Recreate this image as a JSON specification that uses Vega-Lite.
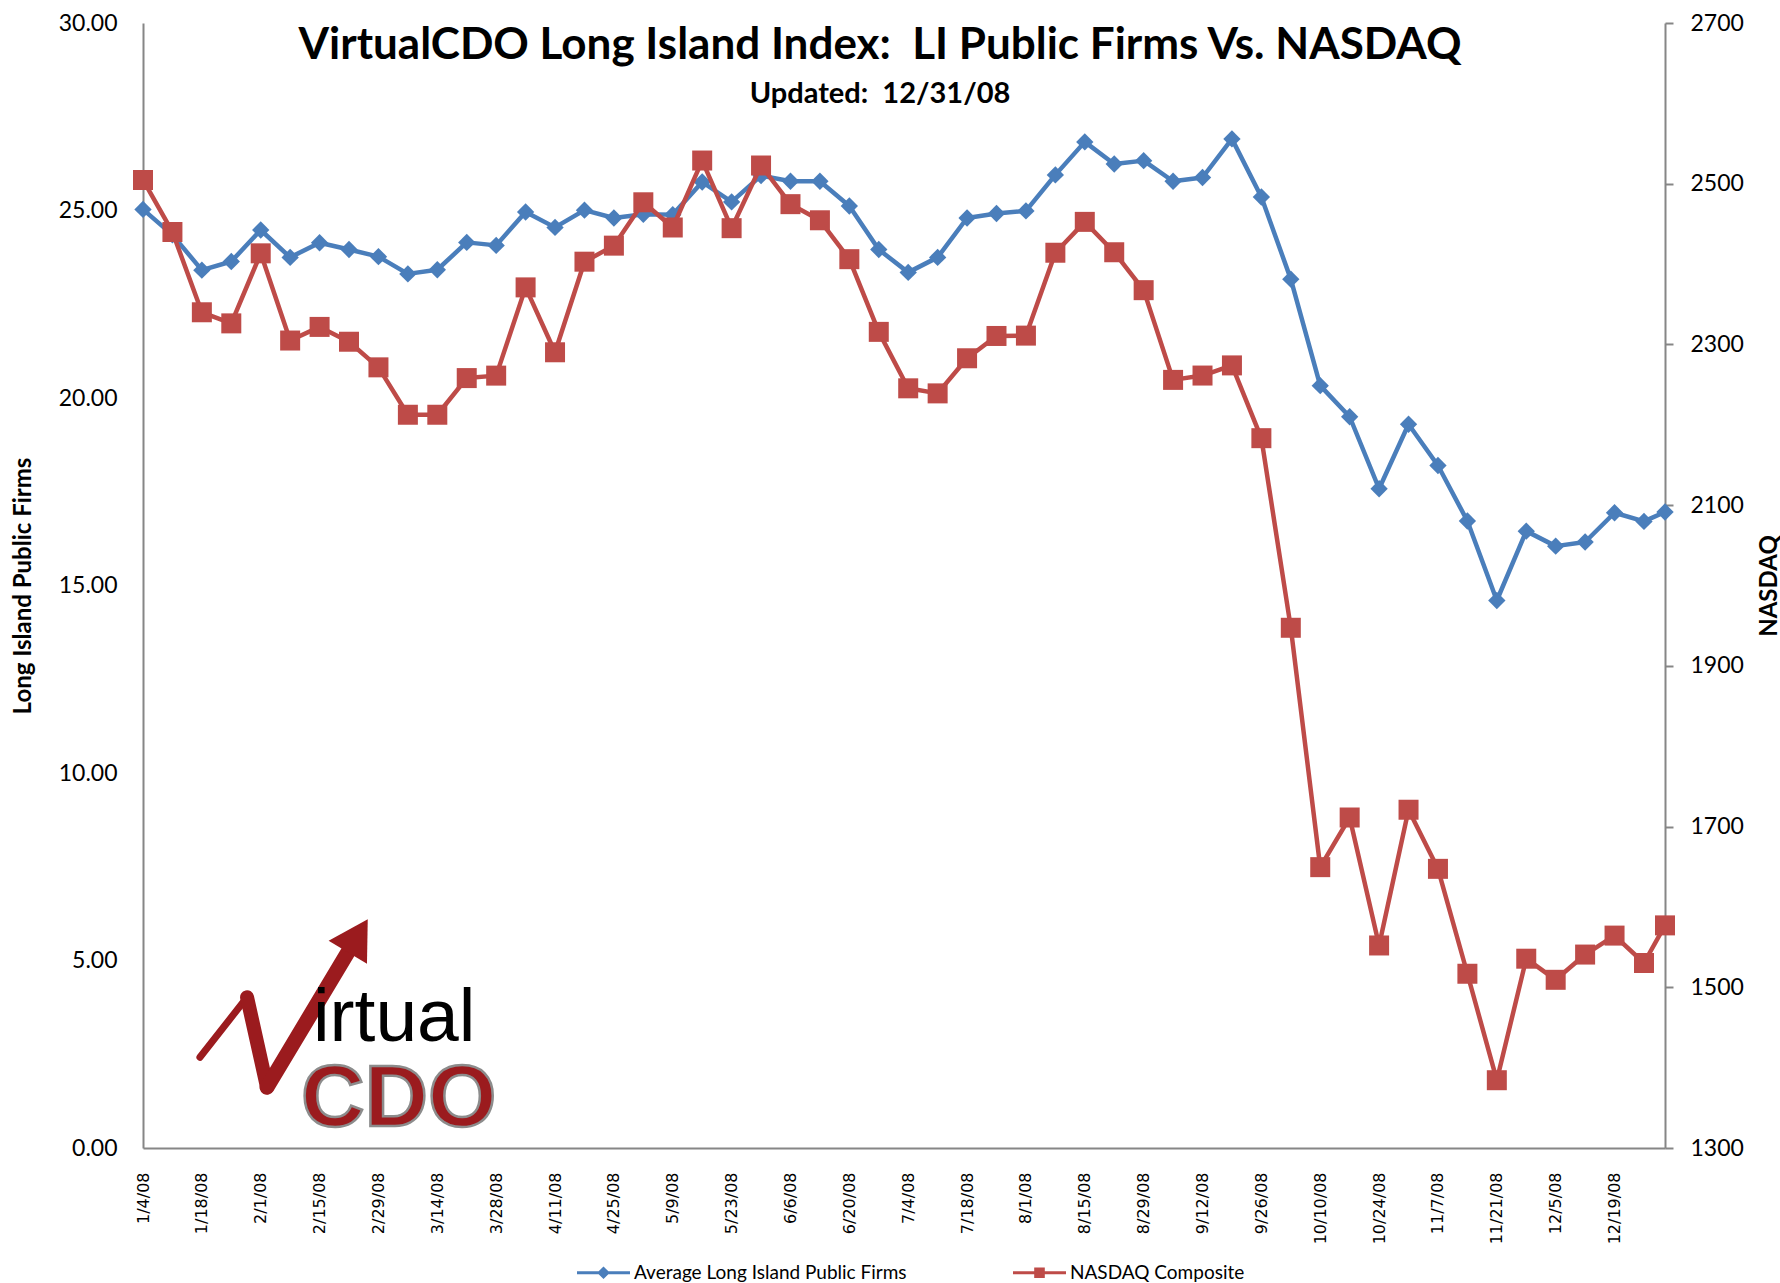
{
  "$schema": "https://vega.github.io/schema/vega-lite/v6.json",
  "width": 1522,
  "height": 1125,
  "autosize": "none",
  "padding": {"left": 143, "top": 23, "right": 115, "bottom": 135},
  "background": "white",
  "config": {
    "view": {"stroke": null},
    "font": "Lato",
    "axis": {"grid": false, "labelColor": "#000000", "titleColor": "#000000", "domainColor": "#868686", "domainWidth": 2}
  },
  "title": {
    "text": "VirtualCDO Long Island Index:\u00a0 LI Public Firms Vs. NASDAQ",
    "subtitle": "Updated:\u00a0 12/31/08",
    "font": "Lato",
    "fontSize": 44,
    "fontWeight": "bold",
    "color": "#000000",
    "subtitleFont": "Lato",
    "subtitleFontSize": 29,
    "subtitleFontWeight": "bold",
    "subtitleColor": "#000000",
    "subtitlePadding": 12,
    "anchor": "middle",
    "frame": "group",
    "offset": -97,
    "dx": -24
  },
  "data": {
    "values": [
      {"date": "2008-01-04", "li": 25.03, "nasdaq": 2504.65},
      {"date": "2008-01-11", "li": 24.35, "nasdaq": 2439.94},
      {"date": "2008-01-18", "li": 23.41, "nasdaq": 2340.02},
      {"date": "2008-01-25", "li": 23.64, "nasdaq": 2326.20},
      {"date": "2008-02-01", "li": 24.48, "nasdaq": 2413.36},
      {"date": "2008-02-08", "li": 23.75, "nasdaq": 2304.85},
      {"date": "2008-02-15", "li": 24.14, "nasdaq": 2321.80},
      {"date": "2008-02-22", "li": 23.96, "nasdaq": 2303.35},
      {"date": "2008-02-29", "li": 23.77, "nasdaq": 2271.48},
      {"date": "2008-03-07", "li": 23.31, "nasdaq": 2212.49},
      {"date": "2008-03-14", "li": 23.42, "nasdaq": 2212.49},
      {"date": "2008-03-21", "li": 24.15, "nasdaq": 2258.11},
      {"date": "2008-03-28", "li": 24.07, "nasdaq": 2261.18},
      {"date": "2008-04-04", "li": 24.96, "nasdaq": 2370.98},
      {"date": "2008-04-11", "li": 24.55, "nasdaq": 2290.24},
      {"date": "2008-04-18", "li": 25.01, "nasdaq": 2402.97},
      {"date": "2008-04-25", "li": 24.80, "nasdaq": 2422.93},
      {"date": "2008-05-02", "li": 24.90, "nasdaq": 2476.89},
      {"date": "2008-05-09", "li": 24.89, "nasdaq": 2445.52},
      {"date": "2008-05-16", "li": 25.76, "nasdaq": 2528.85},
      {"date": "2008-05-23", "li": 25.23, "nasdaq": 2444.67},
      {"date": "2008-05-30", "li": 25.93, "nasdaq": 2522.66},
      {"date": "2008-06-06", "li": 25.78, "nasdaq": 2474.56},
      {"date": "2008-06-13", "li": 25.78, "nasdaq": 2454.50},
      {"date": "2008-06-20", "li": 25.12, "nasdaq": 2406.09},
      {"date": "2008-06-27", "li": 23.96, "nasdaq": 2315.63},
      {"date": "2008-07-04", "li": 23.35, "nasdaq": 2245.38},
      {"date": "2008-07-11", "li": 23.75, "nasdaq": 2239.08},
      {"date": "2008-07-18", "li": 24.80, "nasdaq": 2282.78},
      {"date": "2008-07-25", "li": 24.92, "nasdaq": 2310.53},
      {"date": "2008-08-01", "li": 24.99, "nasdaq": 2310.96},
      {"date": "2008-08-08", "li": 25.95, "nasdaq": 2414.10},
      {"date": "2008-08-15", "li": 26.83, "nasdaq": 2452.52},
      {"date": "2008-08-22", "li": 26.24, "nasdaq": 2414.71},
      {"date": "2008-08-29", "li": 26.33, "nasdaq": 2367.52},
      {"date": "2008-09-05", "li": 25.78, "nasdaq": 2255.88},
      {"date": "2008-09-12", "li": 25.88, "nasdaq": 2261.27},
      {"date": "2008-09-19", "li": 26.91, "nasdaq": 2273.90},
      {"date": "2008-09-26", "li": 25.36, "nasdaq": 2183.34},
      {"date": "2008-10-03", "li": 23.17, "nasdaq": 1947.39},
      {"date": "2008-10-10", "li": 20.33, "nasdaq": 1649.51},
      {"date": "2008-10-17", "li": 19.50, "nasdaq": 1711.29},
      {"date": "2008-10-24", "li": 17.58, "nasdaq": 1552.03},
      {"date": "2008-10-31", "li": 19.30, "nasdaq": 1720.95},
      {"date": "2008-11-07", "li": 18.20, "nasdaq": 1647.40},
      {"date": "2008-11-14", "li": 16.72, "nasdaq": 1516.85},
      {"date": "2008-11-21", "li": 14.60, "nasdaq": 1384.35},
      {"date": "2008-11-28", "li": 16.45, "nasdaq": 1535.57},
      {"date": "2008-12-05", "li": 16.05, "nasdaq": 1509.31},
      {"date": "2008-12-12", "li": 16.16, "nasdaq": 1540.72},
      {"date": "2008-12-19", "li": 16.94, "nasdaq": 1564.32},
      {"date": "2008-12-26", "li": 16.71, "nasdaq": 1530.24},
      {"date": "2008-12-31", "li": 16.96, "nasdaq": 1577.03}
    ]
  },
  "layer": [
    {
      "layer": [
        {
          "mark": {"type": "line", "strokeWidth": 4.5, "strokeJoin": "round", "color": "#4A7EBB"},
          "encoding": {
            "x": {
              "field": "date",
              "type": "temporal",
              "scale": {"type": "utc", "domain": [1199404800000, 1230681600000], "nice": false},
              "axis": {
                "title": null, "format": "%-m/%-d/%y", "labelAngle": 270, "labelFont": "DejaVu Sans", "labelFontSize": 16, "labelPadding": 24, "labelOverlap": false, "labelFlush": false, "ticks": false, "tickSize": 0,
                "values": [
                  {"year": 2008, "month": 1, "date": 4, "utc": true}, {"year": 2008, "month": 1, "date": 11, "utc": true}, {"year": 2008, "month": 1, "date": 18, "utc": true}, {"year": 2008, "month": 1, "date": 25, "utc": true},
                  {"year": 2008, "month": 2, "date": 1, "utc": true}, {"year": 2008, "month": 2, "date": 8, "utc": true}, {"year": 2008, "month": 2, "date": 15, "utc": true}, {"year": 2008, "month": 2, "date": 22, "utc": true}, {"year": 2008, "month": 2, "date": 29, "utc": true},
                  {"year": 2008, "month": 3, "date": 7, "utc": true}, {"year": 2008, "month": 3, "date": 14, "utc": true}, {"year": 2008, "month": 3, "date": 21, "utc": true}, {"year": 2008, "month": 3, "date": 28, "utc": true},
                  {"year": 2008, "month": 4, "date": 4, "utc": true}, {"year": 2008, "month": 4, "date": 11, "utc": true}, {"year": 2008, "month": 4, "date": 18, "utc": true}, {"year": 2008, "month": 4, "date": 25, "utc": true},
                  {"year": 2008, "month": 5, "date": 2, "utc": true}, {"year": 2008, "month": 5, "date": 9, "utc": true}, {"year": 2008, "month": 5, "date": 16, "utc": true}, {"year": 2008, "month": 5, "date": 23, "utc": true}, {"year": 2008, "month": 5, "date": 30, "utc": true},
                  {"year": 2008, "month": 6, "date": 6, "utc": true}, {"year": 2008, "month": 6, "date": 13, "utc": true}, {"year": 2008, "month": 6, "date": 20, "utc": true}, {"year": 2008, "month": 6, "date": 27, "utc": true},
                  {"year": 2008, "month": 7, "date": 4, "utc": true}, {"year": 2008, "month": 7, "date": 11, "utc": true}, {"year": 2008, "month": 7, "date": 18, "utc": true}, {"year": 2008, "month": 7, "date": 25, "utc": true},
                  {"year": 2008, "month": 8, "date": 1, "utc": true}, {"year": 2008, "month": 8, "date": 8, "utc": true}, {"year": 2008, "month": 8, "date": 15, "utc": true}, {"year": 2008, "month": 8, "date": 22, "utc": true}, {"year": 2008, "month": 8, "date": 29, "utc": true},
                  {"year": 2008, "month": 9, "date": 5, "utc": true}, {"year": 2008, "month": 9, "date": 12, "utc": true}, {"year": 2008, "month": 9, "date": 19, "utc": true}, {"year": 2008, "month": 9, "date": 26, "utc": true},
                  {"year": 2008, "month": 10, "date": 3, "utc": true}, {"year": 2008, "month": 10, "date": 10, "utc": true}, {"year": 2008, "month": 10, "date": 17, "utc": true}, {"year": 2008, "month": 10, "date": 24, "utc": true}, {"year": 2008, "month": 10, "date": 31, "utc": true},
                  {"year": 2008, "month": 11, "date": 7, "utc": true}, {"year": 2008, "month": 11, "date": 14, "utc": true}, {"year": 2008, "month": 11, "date": 21, "utc": true}, {"year": 2008, "month": 11, "date": 28, "utc": true},
                  {"year": 2008, "month": 12, "date": 5, "utc": true}, {"year": 2008, "month": 12, "date": 12, "utc": true}, {"year": 2008, "month": 12, "date": 19, "utc": true}, {"year": 2008, "month": 12, "date": 26, "utc": true}
                ]
              }
            },
            "y": {
              "field": "li",
              "type": "quantitative",
              "scale": {"domain": [0, 30]},
              "axis": {
                "title": "Long Island Public Firms", "orient": "left", "values": [0, 5, 10, 15, 20, 25, 30], "format": ".2f", "ticks": false, "tickSize": 0,
                "labelFont": "Lato", "labelFontSize": 23, "labelPadding": 26,
                "titleFont": "Lato", "titleFontSize": 24, "titleFontWeight": "bold", "titleAngle": 270, "titleX": -120, "titleY": 562.5, "titleAlign": "center", "titleBaseline": "middle"
              }
            }
          }
        },
        {
          "mark": {"type": "point", "shape": "diamond", "filled": true, "opacity": 1, "size": 300, "color": "#4A7EBB"},
          "encoding": {
            "x": {
              "field": "date",
              "type": "temporal",
              "scale": {"type": "utc", "domain": [1199404800000, 1230681600000], "nice": false},
              "axis": {
                "title": null, "format": "%-m/%-d/%y", "labelAngle": 270, "labelFont": "DejaVu Sans", "labelFontSize": 16, "labelPadding": 24, "labelOverlap": false, "labelFlush": false, "ticks": false, "tickSize": 0,
                "values": [
                  {"year": 2008, "month": 1, "date": 4, "utc": true}, {"year": 2008, "month": 1, "date": 11, "utc": true}, {"year": 2008, "month": 1, "date": 18, "utc": true}, {"year": 2008, "month": 1, "date": 25, "utc": true},
                  {"year": 2008, "month": 2, "date": 1, "utc": true}, {"year": 2008, "month": 2, "date": 8, "utc": true}, {"year": 2008, "month": 2, "date": 15, "utc": true}, {"year": 2008, "month": 2, "date": 22, "utc": true}, {"year": 2008, "month": 2, "date": 29, "utc": true},
                  {"year": 2008, "month": 3, "date": 7, "utc": true}, {"year": 2008, "month": 3, "date": 14, "utc": true}, {"year": 2008, "month": 3, "date": 21, "utc": true}, {"year": 2008, "month": 3, "date": 28, "utc": true},
                  {"year": 2008, "month": 4, "date": 4, "utc": true}, {"year": 2008, "month": 4, "date": 11, "utc": true}, {"year": 2008, "month": 4, "date": 18, "utc": true}, {"year": 2008, "month": 4, "date": 25, "utc": true},
                  {"year": 2008, "month": 5, "date": 2, "utc": true}, {"year": 2008, "month": 5, "date": 9, "utc": true}, {"year": 2008, "month": 5, "date": 16, "utc": true}, {"year": 2008, "month": 5, "date": 23, "utc": true}, {"year": 2008, "month": 5, "date": 30, "utc": true},
                  {"year": 2008, "month": 6, "date": 6, "utc": true}, {"year": 2008, "month": 6, "date": 13, "utc": true}, {"year": 2008, "month": 6, "date": 20, "utc": true}, {"year": 2008, "month": 6, "date": 27, "utc": true},
                  {"year": 2008, "month": 7, "date": 4, "utc": true}, {"year": 2008, "month": 7, "date": 11, "utc": true}, {"year": 2008, "month": 7, "date": 18, "utc": true}, {"year": 2008, "month": 7, "date": 25, "utc": true},
                  {"year": 2008, "month": 8, "date": 1, "utc": true}, {"year": 2008, "month": 8, "date": 8, "utc": true}, {"year": 2008, "month": 8, "date": 15, "utc": true}, {"year": 2008, "month": 8, "date": 22, "utc": true}, {"year": 2008, "month": 8, "date": 29, "utc": true},
                  {"year": 2008, "month": 9, "date": 5, "utc": true}, {"year": 2008, "month": 9, "date": 12, "utc": true}, {"year": 2008, "month": 9, "date": 19, "utc": true}, {"year": 2008, "month": 9, "date": 26, "utc": true},
                  {"year": 2008, "month": 10, "date": 3, "utc": true}, {"year": 2008, "month": 10, "date": 10, "utc": true}, {"year": 2008, "month": 10, "date": 17, "utc": true}, {"year": 2008, "month": 10, "date": 24, "utc": true}, {"year": 2008, "month": 10, "date": 31, "utc": true},
                  {"year": 2008, "month": 11, "date": 7, "utc": true}, {"year": 2008, "month": 11, "date": 14, "utc": true}, {"year": 2008, "month": 11, "date": 21, "utc": true}, {"year": 2008, "month": 11, "date": 28, "utc": true},
                  {"year": 2008, "month": 12, "date": 5, "utc": true}, {"year": 2008, "month": 12, "date": 12, "utc": true}, {"year": 2008, "month": 12, "date": 19, "utc": true}, {"year": 2008, "month": 12, "date": 26, "utc": true}
                ]
              }
            },
            "y": {"field": "li", "type": "quantitative"}
          }
        },
        {
          "data": {"values": [{"k": 1}]},
          "mark": {"type": "rule", "color": "#9B1B1E", "strokeWidth": 7, "strokeCap": "round"},
          "encoding": {
            "x": {"datum": 1200574800000, "type": "temporal"},
            "x2": {"datum": 1201543200000},
            "y": {"datum": 2.42, "type": "quantitative"},
            "y2": {"datum": 4.02}
          }
        },
        {
          "data": {"values": [{"k": 2}]},
          "mark": {"type": "rule", "color": "#9B1B1E", "strokeWidth": 14, "strokeCap": "round"},
          "encoding": {
            "x": {"datum": 1201543200000, "type": "temporal"},
            "x2": {"datum": 1201953600000},
            "y": {"datum": 4.02, "type": "quantitative"},
            "y2": {"datum": 1.62}
          }
        },
        {
          "data": {"values": [{"k": 3}]},
          "mark": {"type": "rule", "color": "#9B1B1E", "strokeWidth": 15, "strokeCap": "round"},
          "encoding": {
            "x": {"datum": 1201953600000, "type": "temporal"},
            "x2": {"datum": 1203638400000},
            "y": {"datum": 1.62, "type": "quantitative"},
            "y2": {"datum": 5.27}
          }
        },
        {
          "data": {"values": [{"k": 4}]},
          "mark": {"type": "point", "shape": "triangle-up", "filled": true, "opacity": 1, "color": "#9B1B1E", "size": 2000, "angle": 31},
          "encoding": {
            "x": {"datum": 1203818400000, "type": "temporal"},
            "y": {"datum": 5.66, "type": "quantitative"}
          }
        },
        {
          "data": {"values": [{"k": 5}]},
          "mark": {"type": "text", "text": "irtual", "font": "Liberation Sans", "fontSize": 75, "color": "#000000", "align": "left", "baseline": "alphabetic"},
          "encoding": {
            "x": {"datum": 1202896800000, "type": "temporal"},
            "y": {"datum": 2.85, "type": "quantitative"}
          }
        },
        {
          "data": {"values": [{"k": 6}]},
          "mark": {"type": "text", "text": "CDO", "font": "Liberation Sans", "fontSize": 88, "fontWeight": "bold", "color": "#9B1B1E", "stroke": "#8C8C8C", "strokeWidth": 2.5, "align": "left", "baseline": "alphabetic"},
          "encoding": {
            "x": {"datum": 1202651700000, "type": "temporal"},
            "y": {"datum": 0.6, "type": "quantitative"}
          }
        },
        {
          "data": {"values": [{"k": 7}]},
          "mark": {"type": "point", "filled": true, "opacity": 0},
          "encoding": {
            "x": {"datum": 1212278400000, "type": "temporal"},
            "y": {"datum": 10, "type": "quantitative"},
            "color": {
              "datum": "Average Long Island Public Firms",
              "scale": {"domain": ["Average Long Island Public Firms", "NASDAQ Composite"], "range": ["#4A7EBB", "#BE4B48"]},
              "legend": {
                "title": null, "orient": "none", "direction": "horizontal", "legendX": 433, "legendY": 1222, "padding": 0,
                "symbolSize": 2809, "symbolOpacity": 1, "labelFont": "Lato", "labelFontSize": 19, "labelColor": "#000000", "labelOffset": 3, "labelLimit": 0, "columnPadding": 103
              }
            },
            "shape": {
              "datum": "Average Long Island Public Firms",
              "scale": {"domain": ["Average Long Island Public Firms", "NASDAQ Composite"], "range": ["M-1,-0.055H1V0.055H-1ZM0,-0.24L0.24,0L0,0.24L-0.24,0Z", "M-1,-0.055H1V0.055H-1ZM-0.2,-0.2H0.2V0.2H-0.2Z"]},
              "legend": {
                "title": null, "orient": "none", "direction": "horizontal", "legendX": 433, "legendY": 1222, "padding": 0,
                "symbolSize": 2809, "symbolOpacity": 1, "labelFont": "Lato", "labelFontSize": 19, "labelColor": "#000000", "labelOffset": 3, "labelLimit": 0, "columnPadding": 103
              }
            }
          }
        }
      ]
    },
    {
      "layer": [
        {
          "mark": {"type": "line", "strokeWidth": 4.5, "strokeJoin": "round", "color": "#BE4B48"},
          "encoding": {
            "x": {
              "field": "date",
              "type": "temporal",
              "scale": {"type": "utc", "domain": [1199404800000, 1230681600000], "nice": false},
              "axis": {
                "title": null, "format": "%-m/%-d/%y", "labelAngle": 270, "labelFont": "DejaVu Sans", "labelFontSize": 16, "labelPadding": 24, "labelOverlap": false, "labelFlush": false, "ticks": false, "tickSize": 0,
                "values": [
                  {"year": 2008, "month": 1, "date": 4, "utc": true}, {"year": 2008, "month": 1, "date": 11, "utc": true}, {"year": 2008, "month": 1, "date": 18, "utc": true}, {"year": 2008, "month": 1, "date": 25, "utc": true},
                  {"year": 2008, "month": 2, "date": 1, "utc": true}, {"year": 2008, "month": 2, "date": 8, "utc": true}, {"year": 2008, "month": 2, "date": 15, "utc": true}, {"year": 2008, "month": 2, "date": 22, "utc": true}, {"year": 2008, "month": 2, "date": 29, "utc": true},
                  {"year": 2008, "month": 3, "date": 7, "utc": true}, {"year": 2008, "month": 3, "date": 14, "utc": true}, {"year": 2008, "month": 3, "date": 21, "utc": true}, {"year": 2008, "month": 3, "date": 28, "utc": true},
                  {"year": 2008, "month": 4, "date": 4, "utc": true}, {"year": 2008, "month": 4, "date": 11, "utc": true}, {"year": 2008, "month": 4, "date": 18, "utc": true}, {"year": 2008, "month": 4, "date": 25, "utc": true},
                  {"year": 2008, "month": 5, "date": 2, "utc": true}, {"year": 2008, "month": 5, "date": 9, "utc": true}, {"year": 2008, "month": 5, "date": 16, "utc": true}, {"year": 2008, "month": 5, "date": 23, "utc": true}, {"year": 2008, "month": 5, "date": 30, "utc": true},
                  {"year": 2008, "month": 6, "date": 6, "utc": true}, {"year": 2008, "month": 6, "date": 13, "utc": true}, {"year": 2008, "month": 6, "date": 20, "utc": true}, {"year": 2008, "month": 6, "date": 27, "utc": true},
                  {"year": 2008, "month": 7, "date": 4, "utc": true}, {"year": 2008, "month": 7, "date": 11, "utc": true}, {"year": 2008, "month": 7, "date": 18, "utc": true}, {"year": 2008, "month": 7, "date": 25, "utc": true},
                  {"year": 2008, "month": 8, "date": 1, "utc": true}, {"year": 2008, "month": 8, "date": 8, "utc": true}, {"year": 2008, "month": 8, "date": 15, "utc": true}, {"year": 2008, "month": 8, "date": 22, "utc": true}, {"year": 2008, "month": 8, "date": 29, "utc": true},
                  {"year": 2008, "month": 9, "date": 5, "utc": true}, {"year": 2008, "month": 9, "date": 12, "utc": true}, {"year": 2008, "month": 9, "date": 19, "utc": true}, {"year": 2008, "month": 9, "date": 26, "utc": true},
                  {"year": 2008, "month": 10, "date": 3, "utc": true}, {"year": 2008, "month": 10, "date": 10, "utc": true}, {"year": 2008, "month": 10, "date": 17, "utc": true}, {"year": 2008, "month": 10, "date": 24, "utc": true}, {"year": 2008, "month": 10, "date": 31, "utc": true},
                  {"year": 2008, "month": 11, "date": 7, "utc": true}, {"year": 2008, "month": 11, "date": 14, "utc": true}, {"year": 2008, "month": 11, "date": 21, "utc": true}, {"year": 2008, "month": 11, "date": 28, "utc": true},
                  {"year": 2008, "month": 12, "date": 5, "utc": true}, {"year": 2008, "month": 12, "date": 12, "utc": true}, {"year": 2008, "month": 12, "date": 19, "utc": true}, {"year": 2008, "month": 12, "date": 26, "utc": true}
                ]
              }
            },
            "y": {
              "field": "nasdaq",
              "type": "quantitative",
              "scale": {"domain": [1300, 2700]},
              "axis": {
                "title": "NASDAQ", "orient": "right", "values": [1300, 1500, 1700, 1900, 2100, 2300, 2500, 2700], "format": "d",
                "ticks": true, "tickSize": 8, "tickWidth": 2, "tickColor": "#868686",
                "labelFont": "Lato", "labelFontSize": 23, "labelPadding": 17,
                "titleFont": "Lato", "titleFontSize": 24, "titleFontWeight": "bold", "titleAngle": 270, "titleX": 104, "titleY": 562.5, "titleAlign": "center", "titleBaseline": "middle"
              }
            }
          }
        },
        {
          "mark": {"type": "point", "shape": "square", "filled": true, "opacity": 1, "size": 400, "color": "#BE4B48"},
          "encoding": {
            "x": {
              "field": "date",
              "type": "temporal",
              "scale": {"type": "utc", "domain": [1199404800000, 1230681600000], "nice": false},
              "axis": {
                "title": null, "format": "%-m/%-d/%y", "labelAngle": 270, "labelFont": "DejaVu Sans", "labelFontSize": 16, "labelPadding": 24, "labelOverlap": false, "labelFlush": false, "ticks": false, "tickSize": 0,
                "values": [
                  {"year": 2008, "month": 1, "date": 4, "utc": true}, {"year": 2008, "month": 1, "date": 11, "utc": true}, {"year": 2008, "month": 1, "date": 18, "utc": true}, {"year": 2008, "month": 1, "date": 25, "utc": true},
                  {"year": 2008, "month": 2, "date": 1, "utc": true}, {"year": 2008, "month": 2, "date": 8, "utc": true}, {"year": 2008, "month": 2, "date": 15, "utc": true}, {"year": 2008, "month": 2, "date": 22, "utc": true}, {"year": 2008, "month": 2, "date": 29, "utc": true},
                  {"year": 2008, "month": 3, "date": 7, "utc": true}, {"year": 2008, "month": 3, "date": 14, "utc": true}, {"year": 2008, "month": 3, "date": 21, "utc": true}, {"year": 2008, "month": 3, "date": 28, "utc": true},
                  {"year": 2008, "month": 4, "date": 4, "utc": true}, {"year": 2008, "month": 4, "date": 11, "utc": true}, {"year": 2008, "month": 4, "date": 18, "utc": true}, {"year": 2008, "month": 4, "date": 25, "utc": true},
                  {"year": 2008, "month": 5, "date": 2, "utc": true}, {"year": 2008, "month": 5, "date": 9, "utc": true}, {"year": 2008, "month": 5, "date": 16, "utc": true}, {"year": 2008, "month": 5, "date": 23, "utc": true}, {"year": 2008, "month": 5, "date": 30, "utc": true},
                  {"year": 2008, "month": 6, "date": 6, "utc": true}, {"year": 2008, "month": 6, "date": 13, "utc": true}, {"year": 2008, "month": 6, "date": 20, "utc": true}, {"year": 2008, "month": 6, "date": 27, "utc": true},
                  {"year": 2008, "month": 7, "date": 4, "utc": true}, {"year": 2008, "month": 7, "date": 11, "utc": true}, {"year": 2008, "month": 7, "date": 18, "utc": true}, {"year": 2008, "month": 7, "date": 25, "utc": true},
                  {"year": 2008, "month": 8, "date": 1, "utc": true}, {"year": 2008, "month": 8, "date": 8, "utc": true}, {"year": 2008, "month": 8, "date": 15, "utc": true}, {"year": 2008, "month": 8, "date": 22, "utc": true}, {"year": 2008, "month": 8, "date": 29, "utc": true},
                  {"year": 2008, "month": 9, "date": 5, "utc": true}, {"year": 2008, "month": 9, "date": 12, "utc": true}, {"year": 2008, "month": 9, "date": 19, "utc": true}, {"year": 2008, "month": 9, "date": 26, "utc": true},
                  {"year": 2008, "month": 10, "date": 3, "utc": true}, {"year": 2008, "month": 10, "date": 10, "utc": true}, {"year": 2008, "month": 10, "date": 17, "utc": true}, {"year": 2008, "month": 10, "date": 24, "utc": true}, {"year": 2008, "month": 10, "date": 31, "utc": true},
                  {"year": 2008, "month": 11, "date": 7, "utc": true}, {"year": 2008, "month": 11, "date": 14, "utc": true}, {"year": 2008, "month": 11, "date": 21, "utc": true}, {"year": 2008, "month": 11, "date": 28, "utc": true},
                  {"year": 2008, "month": 12, "date": 5, "utc": true}, {"year": 2008, "month": 12, "date": 12, "utc": true}, {"year": 2008, "month": 12, "date": 19, "utc": true}, {"year": 2008, "month": 12, "date": 26, "utc": true}
                ]
              }
            },
            "y": {"field": "nasdaq", "type": "quantitative"}
          }
        }
      ]
    }
  ],
  "resolve": {"scale": {"y": "independent"}, "axis": {"y": "independent"}}
}
